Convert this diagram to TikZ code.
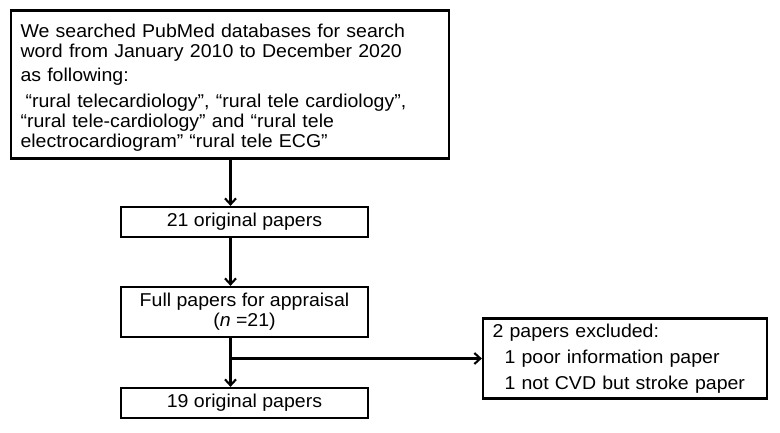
\documentclass[tikz,border=0pt]{standalone}
\usepackage{fontspec}
\setmainfont[FakeStretch=1.05]{Liberation Sans}
\usetikzlibrary{arrows.meta}
\begin{document}
\begin{tikzpicture}[x=1pt,y=-1pt,
  box/.style={draw=black, line width=2.2pt, inner ysep=0pt, inner xsep=9.5pt,
    font=\fontsize{18.6}{20}\selectfont},
  conn/.style={line width=2.1pt, -{Straight Barb[length=6pt,width=11pt,line width=2.1pt]}}]
\useasboundingbox (0,0) rectangle (780,432);
\fill[white] (0,0) rectangle (780,432);
\node[box, text width=419pt, minimum height=148pt, align=left] (top) at (230,84.5)
  {\rule{0pt}{20pt}We searched PubMed databases for search\\
   word from January 2010 to December 2020\\[4pt]
   as following:\\[6pt]
   \hspace*{5pt}“rural telecardiology”, “rural tele cardiology”,\\
   “rural tele-cardiology” and “rural tele\\
   electrocardiogram” “rural tele ECG”};
\node[box, minimum width=247pt, minimum height=30pt, align=center] (n21) at (244.5,222) {21 original papers};
\node[box, minimum width=247pt, minimum height=50pt, align=center] (full) at (244.5,312)
  {Full papers for appraisal\\(\textit{n} =21)};
\node[box, minimum width=247pt, minimum height=30pt, align=center] (n19) at (244.5,403) {19 original papers};
\node[box, text width=265pt, minimum height=80pt, align=left,
  font=\fontsize{18.6}{26}\selectfont] (excl) at (625,358.5)
  {2 papers excluded:\\
   \hspace*{12pt}1 poor information paper\\
   \hspace*{12pt}1 not CVD but stroke paper};
\coordinate (ax) at (230.5,0);
\draw[conn] (top.south -| ax) -- (n21.north -| ax);
\draw[conn] (n21.south -| ax) -- (full.north -| ax);
\draw[conn] (full.south -| ax) -- (n19.north -| ax);
\draw[conn] (excl.west -| ax) -- (excl.west);
\end{tikzpicture}
\end{document}
